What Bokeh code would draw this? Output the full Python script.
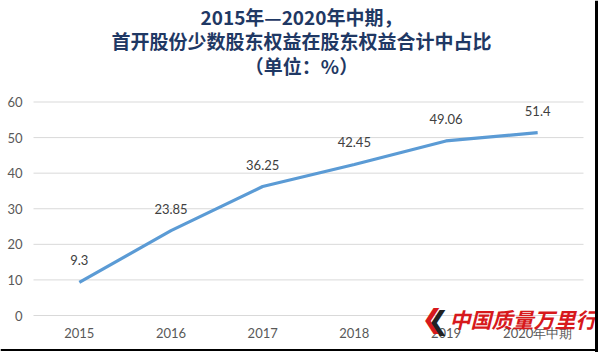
from bokeh.plotting import figure
from bokeh.models import ColumnDataSource, Range1d
from bokeh.core.properties import value
from bokeh.embed import file_html
from bokeh.resources import INLINE

years = ["2015", "2016", "2017", "2018", "2019", "2020年中期"]
ratios = [9.3, 23.85, 36.25, 42.45, 49.06, 51.4]
ratio_labels = ["9.3", "23.85", "36.25", "42.45", "49.06", "51.4"]
y_ticks = [0, 10, 20, 30, 40, 50, 60]
title_lines = ["2015年—2020年中期，", "首开股份少数股东权益在股东权益合计中占比", "（单位：%）"]
watermark = "中国质量万里行"

# pixel geometry of the plot area
W, H = 598, 352
left_px, right_px = 33, 583
zero_px, top_px = 315, 101.5
ux = (right_px - left_px) / len(years)        # px per category
uy = (zero_px - top_px) / (y_ticks[-1] - y_ticks[0])  # px per unit

def dx(px):
    return (px - left_px) / ux

def dy(py):
    return (zero_px - py) / uy

xs = [i + 0.5 for i in range(len(years))]
src = ColumnDataSource(dict(x=xs, y=ratios, lab=ratio_labels))

p = figure(width=W, height=H, x_range=Range1d(dx(0), dx(W)),
           y_range=Range1d(dy(H), dy(0)), output_backend="svg",
           toolbar_location=None, min_border=0)
p.outline_line_color = None
p.axis.visible = False
p.grid.visible = False
p.background_fill_color = "white"
p.border_fill_color = "white"

# gridlines
p.segment(x0=[0] * len(y_ticks), x1=[len(years)] * len(y_ticks),
          y0=y_ticks, y1=y_ticks, line_color="#D9D9D9", line_width=1)
# y tick labels
p.text(x=[dx(22)] * len(y_ticks), y=y_ticks, text=[str(t) for t in y_ticks],
       text_align="right", text_baseline="middle", text_font=value("Lato"),
       text_font_size="13px", text_color="#595959")
# x tick labels
p.text(x=xs, y=[dy(332)] * len(xs), text=years, text_align="center",
       text_baseline="middle", text_font=value("Lato"),
       text_font_size="13px", text_color="#595959")

# series
p.line("x", "y", source=src, line_color="#5B9BD5", line_width=3.2)
p.text("x", "y", text="lab", source=src, text_align="center",
       text_baseline="middle", y_offset=-22, text_font=value("Lato"),
       text_font_size="13px", text_color="#404040")

# title
for line, py in zip(title_lines, [16, 40, 65]):
    p.text(x=[dx(301)], y=[dy(py)], text=[line], text_align="center",
           text_baseline="middle", text_font=value("Noto Sans CJK SC"),
           text_font_size="19px", text_font_style="bold", text_color="#1F3864")

# watermark
p.text(x=[dx(421)], y=[dy(318)], text=["❮"], text_align="left",
       text_baseline="middle", text_font=value("DejaVu Sans"),
       text_font_size="26px", text_font_style="bold", text_color="#D7191C")
p.text(x=[dx(427)], y=[dy(320)], text=["❮"], text_align="left",
       text_baseline="middle", text_font=value("DejaVu Sans"),
       text_font_size="26px", text_font_style="bold", text_color="#222222")
p.text(x=[dx(449)], y=[dy(318)], text=[watermark], text_align="left",
       text_baseline="middle", text_font=value("Noto Sans CJK SC"),
       text_font_size="21px", text_font_style="bold italic", text_color="#D7191C")

# border lines (right and bottom)
p.segment(x0=[dx(596)], x1=[dx(596)], y0=[dy(0)], y1=[dy(H)],
          line_color="black", line_width=3)
p.segment(x0=[dx(0)], x1=[dx(W)], y0=[dy(349.5)], y1=[dy(349.5)],
          line_color="black", line_width=2)

open("out.html", "w").write(file_html(p, INLINE))
